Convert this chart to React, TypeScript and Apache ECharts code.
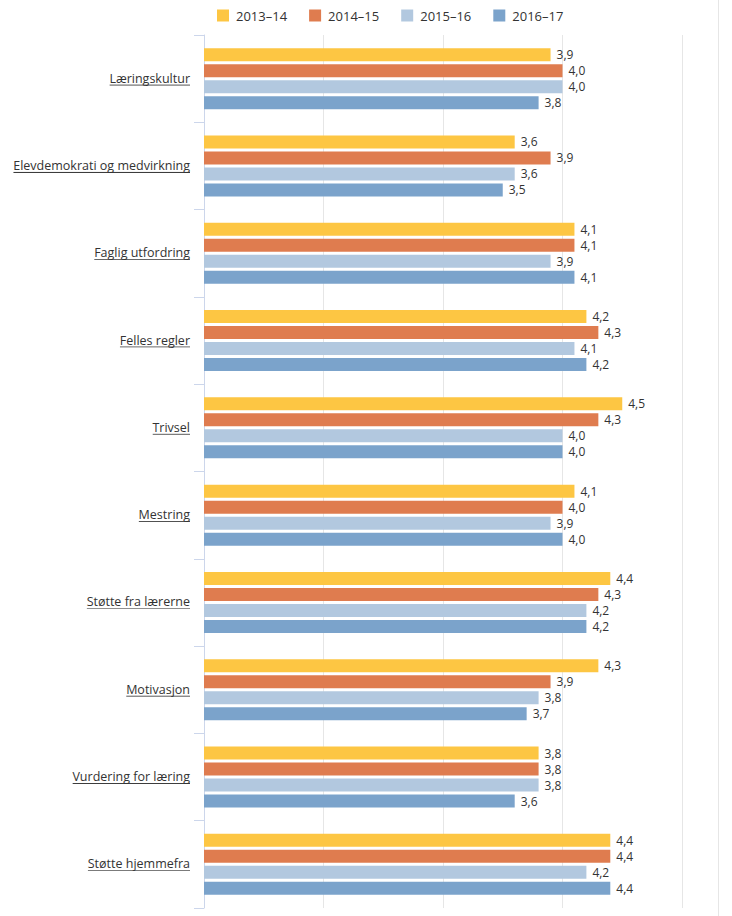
import React, { useEffect, useRef } from "react";
import * as echarts from "echarts";

const categories = [
  "Læringskultur",
  "Elevdemokrati og medvirkning",
  "Faglig utfordring",
  "Felles regler",
  "Trivsel",
  "Mestring",
  "Støtte fra lærerne",
  "Motivasjon",
  "Vurdering for læring",
  "Støtte hjemmefra",
];
const seriesNames = ["2013–14", "2014–15", "2015–16", "2016–17"];
const s2013 = [3.9, 3.6, 4.1, 4.2, 4.5, 4.1, 4.4, 4.3, 3.8, 4.4];
const s2014 = [4.0, 3.9, 4.1, 4.3, 4.3, 4.0, 4.3, 3.9, 3.8, 4.4];
const s2015 = [4.0, 3.6, 3.9, 4.1, 4.0, 3.9, 4.2, 3.8, 3.8, 4.2];
const s2016 = [3.8, 3.5, 4.1, 4.2, 4.0, 4.0, 4.2, 3.7, 3.6, 4.4];
const seriesData = [s2013, s2014, s2015, s2016];
const colors = ["#FDC643", "#DF7C4F", "#B2C8DF", "#7BA3CB"];

const FONT = "'Open Sans', 'DejaVu Sans', sans-serif";

const underlineSvg =
  "data:image/svg+xml," +
  encodeURIComponent(
    "<svg xmlns='http://www.w3.org/2000/svg'><rect x='0' y='100%' width='100%' height='1' transform='translate(0,-1)' fill='#333333'/></svg>"
  );

export default function App() {
  const ref = useRef<HTMLDivElement>(null);
  useEffect(() => {
    if (!ref.current) return;
    const chart = echarts.init(ref.current, undefined, { renderer: "svg" });
    chart.setOption({
      animation: false,
      textStyle: { fontFamily: FONT },
      legend: {
        top: 4,
        left: 212,
        icon: "rect",
        itemWidth: 12,
        itemHeight: 12,
        itemGap: 22,
        textStyle: { fontSize: 13, color: "#333333", fontFamily: FONT, padding: [0, 0, 0, 2] },
        data: seriesNames,
      },
      grid: { left: 204, right: 50, top: 35, bottom: 8 },
      xAxis: {
        type: "value",
        min: 1,
        max: 5,
        interval: 1,
        axisLabel: { show: false },
        axisLine: { show: false },
        axisTick: { show: false },
        splitLine: { lineStyle: { color: "#e6e6e6", width: 1 } },
      },
      yAxis: {
        type: "category",
        inverse: true,
        data: categories,
        axisLine: { show: true, lineStyle: { color: "#ccd6eb" } },
        axisTick: { show: true, length: 10, lineStyle: { color: "#ccd6eb" } },
        axisLabel: {
          margin: 14,
          formatter: (v: string) => "{u|" + v + "}",
          rich: {
            u: {
              fontSize: 12.5,
              color: "#333333",
              fontFamily: FONT,
              lineHeight: 15,
              padding: [0, 0, 1, 0],
              backgroundColor: { image: underlineSvg },
            },
          },
        },
      },
      series: seriesNames.map((name, i) => ({
        name,
        type: "bar",
        data: seriesData[i],
        barWidth: 13,
        barGap: "23%",
        itemStyle: { color: colors[i] },
        label: {
          show: true,
          position: "right",
          distance: 6,
          fontSize: 12,
          color: "#333333",
          fontFamily: FONT,
          formatter: (p: any) => p.value.toFixed(1).replace(".", ","),
        },
      })),
    });
    return () => chart.dispose();
  }, []);
  return (
    <div style={{ position: "fixed", left: 0, top: 0, width: 732, height: 916, background: "#fff" }}>
      <div ref={ref} style={{ position: "absolute", left: 0, top: 0, width: 732, height: 916 }} />
      <div style={{ position: "absolute", left: 718, top: 0, width: 1, height: 916, background: "#e6e6e6" }} />
    </div>
  );
}
